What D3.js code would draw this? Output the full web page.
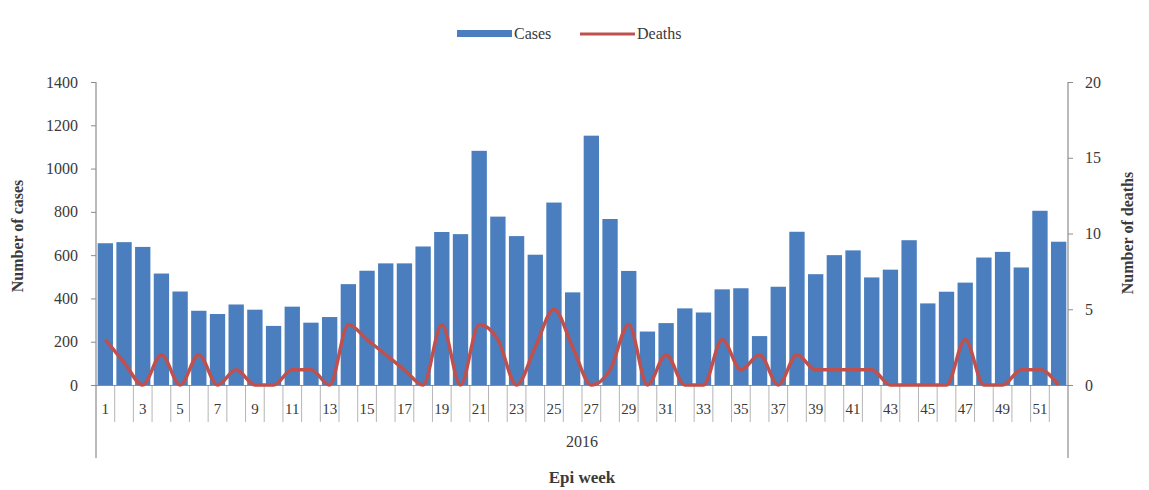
<!DOCTYPE html>
<html>
<head>
<meta charset="utf-8">
<script src="https://cdn.jsdelivr.net/npm/d3@7"></script>
<style>
  html, body { margin: 0; padding: 0; background: #fff; }
  svg { display: block; }
  text { font-family: "Liberation Serif", "Times New Roman", serif; fill: #3a3a3a; }
</style>
</head>
<body>
<svg id="chart" width="1149" height="490"></svg>
<script>
const weeks = d3.range(1, 53);
const cases = [655, 660, 638, 515, 432, 343, 328, 372, 348, 273, 362, 288, 314, 466, 528, 562, 562, 640,
  707, 697, 1082, 778, 688, 602, 843, 428, 1152, 767, 527, 247, 286, 354, 335, 442, 447, 226,
  454, 708, 512, 600, 622, 497, 533, 669, 377, 431, 473, 589, 615, 543, 805, 662];
const deaths = [3, 1.5, 0, 2, 0, 2, 0, 1, 0, 0, 1, 1, 0, 4, 3, 2, 1, 0,
  4, 0, 4, 3, 0, 2.5, 5, 2.5, 0, 1, 4, 0, 2, 0, 0, 3, 1, 2,
  0, 2, 1, 1, 1, 1, 0, 0, 0, 0, 3, 0, 0, 1, 1, 0];
const leftTicks = [0, 200, 400, 600, 800, 1000, 1200, 1400];
const rightTicks = [0, 5, 10, 15, 20];
const yearLabel = "2016";
const seriesNames = ["Cases", "Deaths"];

const svg = d3.select("#chart");
const m = { left: 96, right: 1068, top: 82, bottom: 385 };
const axisColor = "#8c8c8c";
const barColor = "#4a7ebe";
const lineColor = "#c0504d";

const x = d3.scaleBand().domain(weeks).range([m.left, m.right]).paddingInner(0.18).paddingOuter(0.09);
const yL = d3.scaleLinear().domain([0, 1400]).range([m.bottom, m.top]);
const yR = d3.scaleLinear().domain([0, 20]).range([m.bottom, m.top]);

// bars
svg.append("g").selectAll("rect").data(weeks).join("rect")
  .attr("x", d => x(d))
  .attr("width", x.bandwidth())
  .attr("y", (d, i) => yL(cases[i]))
  .attr("height", (d, i) => yL(0) - yL(cases[i]))
  .attr("fill", barColor);

// category boundary lines
const step = x.step();
const bounds = d3.range(0, 53).map(i => m.left + i * (m.right - m.left) / 52);
svg.append("g").selectAll("line").data(bounds.slice(1, -1)).join("line")
  .attr("x1", d => d).attr("x2", d => d)
  .attr("y1", m.bottom).attr("y2", 422)
  .attr("stroke", "#b5b5b5").attr("stroke-width", 1);

// x axis baseline
svg.append("line").attr("x1", m.left).attr("x2", m.right)
  .attr("y1", m.bottom + 0.5).attr("y2", m.bottom + 0.5)
  .attr("stroke", axisColor).attr("stroke-width", 1);

// group separators (long lines)
[m.left, m.right].forEach(px => {
  svg.append("line").attr("x1", px).attr("x2", px).attr("y1", m.top).attr("y2", 458)
    .attr("stroke", axisColor).attr("stroke-width", 1.2);
});

// left axis
const gL = svg.append("g").attr("transform", `translate(${m.left},0)`)
  .call(d3.axisLeft(yL).tickValues(leftTicks).tickSize(5).tickPadding(13).tickFormat(d3.format("d")));
gL.select(".domain").remove();
gL.selectAll("line").attr("stroke", axisColor);
gL.selectAll("text").style("font-size", "16px").style("font-family", "Liberation Serif").attr("fill", "#444");

// right axis
const gR = svg.append("g").attr("transform", `translate(${m.right},0)`)
  .call(d3.axisRight(yR).tickValues(rightTicks).tickSize(5).tickPadding(12));
gR.select(".domain").remove();
gR.selectAll("line").attr("stroke", axisColor);
gR.selectAll("text").style("font-size", "16px").style("font-family", "Liberation Serif").attr("fill", "#444");

// x tick labels (odd weeks)
const gX = svg.append("g").attr("transform", `translate(0,${m.bottom})`)
  .call(d3.axisBottom(x).tickSize(0).tickPadding(18).tickFormat(d => d % 2 === 1 ? d : ""));
gX.select(".domain").remove();
gX.selectAll("text").style("font-size", "15px").style("font-family", "Liberation Serif").attr("fill", "#444");

// deaths line
const line = d3.line()
  .x((d, i) => x(weeks[i]) + x.bandwidth() / 2)
  .y(d => yR(d))
  .curve(d3.curveMonotoneX);
svg.append("path").datum(deaths)
  .attr("d", line)
  .attr("fill", "none")
  .attr("stroke", lineColor)
  .attr("stroke-width", 3.5)
  .attr("stroke-linejoin", "round");

// year label
svg.append("text").attr("x", (m.left + m.right) / 2).attr("y", 447)
  .attr("text-anchor", "middle").style("font-size", "16px").attr("fill", "#444").text(yearLabel);

// axis titles
svg.append("text").attr("x", (m.left + m.right) / 2).attr("y", 483)
  .attr("text-anchor", "middle").style("font-size", "17px").style("font-weight", "bold")
  .attr("fill", "#222").text("Epi week");

svg.append("text").attr("transform", `translate(23,236) rotate(-90)`)
  .attr("text-anchor", "middle").style("font-size", "16px").style("font-weight", "bold")
  .attr("fill", "#222").text("Number of cases");

svg.append("text").attr("transform", `translate(1133,233) rotate(-90)`)
  .attr("text-anchor", "middle").style("font-size", "16px").style("font-weight", "bold")
  .attr("fill", "#222").text("Number of deaths");

// legend
const lg = svg.append("g");
lg.append("rect").attr("x", 457).attr("y", 30).attr("width", 55).attr("height", 7).attr("fill", barColor);
lg.append("text").attr("x", 514).attr("y", 39).style("font-size", "16px").attr("fill", "#444").text(seriesNames[0]);
lg.append("line").attr("x1", 580).attr("x2", 635).attr("y1", 34).attr("y2", 34)
  .attr("stroke", lineColor).attr("stroke-width", 3);
lg.append("text").attr("x", 637).attr("y", 39).style("font-size", "16px").attr("fill", "#444").text(seriesNames[1]);
</script>
</body>
</html>
